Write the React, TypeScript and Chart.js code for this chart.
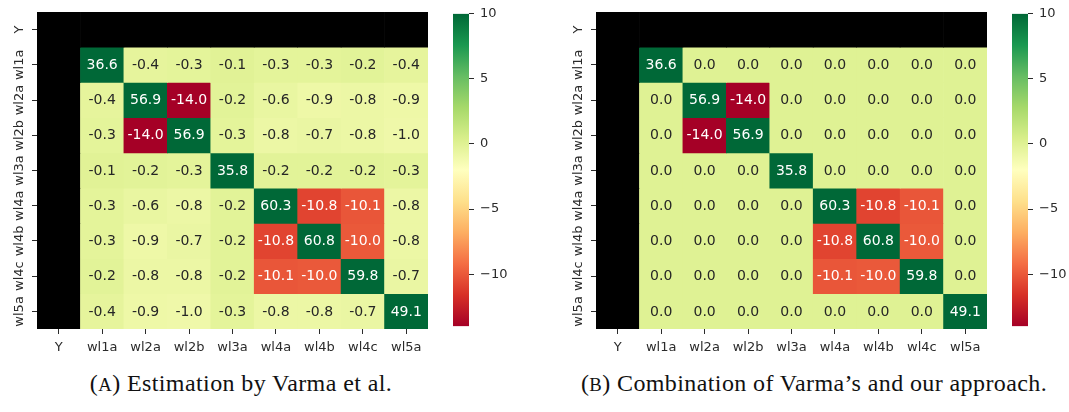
import React, { useEffect, useRef } from 'react';
import { Chart, registerables } from 'chart.js';

Chart.register(...registerables);

// ---------- data ----------
const rowLabels = ['Y', 'wl1a', 'wl2a', 'wl2b', 'wl3a', 'wl4a', 'wl4b', 'wl4c', 'wl5a'];
const colLabels = ['Y', 'wl1a', 'wl2a', 'wl2b', 'wl3a', 'wl4a', 'wl4b', 'wl4c', 'wl5a'];

// (A) Estimation by Varma et al. — rows wl1a..wl5a, columns wl1a..wl5a
const varmaWl1a = [36.6, -0.4, -0.3, -0.1, -0.3, -0.3, -0.2, -0.4];
const varmaWl2a = [-0.4, 56.9, -14.0, -0.2, -0.6, -0.9, -0.8, -0.9];
const varmaWl2b = [-0.3, -14.0, 56.9, -0.3, -0.8, -0.7, -0.8, -1.0];
const varmaWl3a = [-0.1, -0.2, -0.3, 35.8, -0.2, -0.2, -0.2, -0.3];
const varmaWl4a = [-0.3, -0.6, -0.8, -0.2, 60.3, -10.8, -10.1, -0.8];
const varmaWl4b = [-0.3, -0.9, -0.7, -0.2, -10.8, 60.8, -10.0, -0.8];
const varmaWl4c = [-0.2, -0.8, -0.8, -0.2, -10.1, -10.0, 59.8, -0.7];
const varmaWl5a = [-0.4, -0.9, -1.0, -0.3, -0.8, -0.8, -0.7, 49.1];

// (B) Combination of Varma's and our approach
const combWl1a = [36.6, 0.0, 0.0, 0.0, 0.0, 0.0, 0.0, 0.0];
const combWl2a = [0.0, 56.9, -14.0, 0.0, 0.0, 0.0, 0.0, 0.0];
const combWl2b = [0.0, -14.0, 56.9, 0.0, 0.0, 0.0, 0.0, 0.0];
const combWl3a = [0.0, 0.0, 0.0, 35.8, 0.0, 0.0, 0.0, 0.0];
const combWl4a = [0.0, 0.0, 0.0, 0.0, 60.3, -10.8, -10.1, 0.0];
const combWl4b = [0.0, 0.0, 0.0, 0.0, -10.8, 60.8, -10.0, 0.0];
const combWl4c = [0.0, 0.0, 0.0, 0.0, -10.1, -10.0, 59.8, 0.0];
const combWl5a = [0.0, 0.0, 0.0, 0.0, 0.0, 0.0, 0.0, 49.1];

const colorbarTicks = [-10, -5, 0, 5, 10];
const vmin = -14;
const vmax = 10;

const captionA = 'Estimation by Varma et al.';
const captionB = 'Combination of Varma\u2019s and our approach.';

// RdYlGn colormap control colours
const rdylgn = ['#a50026', '#d73027', '#f46d43', '#fdae61', '#fee08b', '#ffffbf', '#d9ef8b', '#a6d96a', '#66bd63', '#1a9850', '#006837'];

// ---------- helpers ----------
type Cell = number | null;

const buildMatrix = (rows: number[][]): Cell[][] => [
  colLabels.map(() => null),
  ...rows.map((r) => [null, ...r]),
];

const matrixA = buildMatrix([varmaWl1a, varmaWl2a, varmaWl2b, varmaWl3a, varmaWl4a, varmaWl4b, varmaWl4c, varmaWl5a]);
const matrixB = buildMatrix([combWl1a, combWl2a, combWl2b, combWl3a, combWl4a, combWl4b, combWl4c, combWl5a]);

const hexToRgb = (h: string) => [parseInt(h.slice(1, 3), 16), parseInt(h.slice(3, 5), 16), parseInt(h.slice(5, 7), 16)];

const cmapRgb = (v: number) => {
  let t = (v - vmin) / (vmax - vmin);
  t = Math.max(0, Math.min(1, t));
  const pos = t * (rdylgn.length - 1);
  const i = Math.min(Math.floor(pos), rdylgn.length - 2);
  const f = pos - i;
  const a = hexToRgb(rdylgn[i]);
  const b = hexToRgb(rdylgn[i + 1]);
  return a.map((c, k) => Math.round(c + (b[k] - c) * f));
};

const cmap = (v: number) => {
  const [r, g, b] = cmapRgb(v);
  return `rgb(${r},${g},${b})`;
};

const textColorFor = (v: number) => {
  const lin = cmapRgb(v).map((c) => {
    const s = c / 255;
    return s <= 0.03928 ? s / 12.92 : Math.pow((s + 0.055) / 1.055, 2.4);
  });
  const lum = 0.2126 * lin[0] + 0.7152 * lin[1] + 0.0722 * lin[2];
  return lum > 0.408 ? '#262626' : '#ffffff';
};

const TICK_COLOR = '#2b2b2b';
const FONT_FAMILY = '"DejaVu Sans", sans-serif';

const annotPlugin = {
  id: 'annot',
  afterDatasetsDraw(chart: any) {
    const ctx = chart.ctx;
    ctx.save();
    ctx.font = `14px ${FONT_FAMILY}`;
    ctx.textAlign = 'center';
    ctx.textBaseline = 'middle';
    chart.data.datasets.forEach((ds: any, di: number) => {
      const meta = chart.getDatasetMeta(di);
      meta.data.forEach((el: any, ci: number) => {
        const v = ds.values[ci];
        if (v === null || v === undefined) return;
        const { x, y, base } = el.getProps(['x', 'y', 'base'], true);
        ctx.fillStyle = textColorFor(v);
        ctx.fillText(v.toFixed(1), x, (y + base) / 2 + 0.5);
      });
    });
    ctx.restore();
  },
};

// ---------- components ----------
function Heatmap({ matrix, left }: { matrix: Cell[][]; left: number }) {
  const ref = useRef<HTMLCanvasElement>(null);
  useEffect(() => {
    if (!ref.current) return;
    const datasets = matrix.map((row, r) => ({
      label: rowLabels[r],
      data: row.map(() => 1),
      values: row,
      backgroundColor: row.map((v) => (v === null ? '#000000' : cmap(v))),
      borderWidth: 0,
      barPercentage: 1,
      categoryPercentage: 1,
    }));
    const chart = new Chart(ref.current, {
      type: 'bar',
      data: { labels: colLabels, datasets: datasets as any },
      options: {
        animation: false,
        responsive: false,
        maintainAspectRatio: false,
        events: [],
        layout: { padding: { top: 12, right: 12, left: 0, bottom: 0 } },
        plugins: { legend: { display: false }, tooltip: { enabled: false } },
        scales: {
          x: {
            stacked: true,
            offset: true,
            border: { display: false },
            grid: { offset: false, drawOnChartArea: false, drawTicks: true, tickLength: 5, color: TICK_COLOR },
            ticks: { color: TICK_COLOR, font: { family: FONT_FAMILY, size: 13 }, padding: 6, minRotation: 0, maxRotation: 0, autoSkip: false },
            afterFit: (s: any) => { s.height = 31; },
          },
          y: {
            stacked: true,
            reverse: true,
            min: 0,
            max: rowLabels.length,
            border: { display: false },
            grid: { drawOnChartArea: false, drawTicks: true, tickLength: 5, color: TICK_COLOR },
            afterBuildTicks: (s: any) => { s.ticks = rowLabels.map((_, i) => ({ value: i + 0.5 })); },
            ticks: {
              color: TICK_COLOR,
              font: { family: FONT_FAMILY, size: 13 },
              autoSkip: false,
              minRotation: 90,
              maxRotation: 90,
              crossAlign: 'center',
              padding: -3,
              callback: (v: any) => rowLabels[Math.floor(Number(v))],
            },
            afterFit: (s: any) => { s.width = 37; },
          },
        },
      } as any,
      plugins: [annotPlugin],
    });
    return () => chart.destroy();
  }, [matrix]);
  return (
    <canvas ref={ref} width={440} height={360}
      style={{ position: 'absolute', left, top: 0, width: 440, height: 360, display: 'block' }} />
  );
}

function Colorbar({ left }: { left: number }) {
  const ref = useRef<HTMLCanvasElement>(null);
  useEffect(() => {
    if (!ref.current) return;
    const chart = new Chart(ref.current, {
      type: 'bar',
      data: {
        labels: [''],
        datasets: [{
          data: [[vmin, vmax]],
          borderWidth: 0,
          barPercentage: 1,
          categoryPercentage: 1,
          backgroundColor: (c: any) => {
            const area = c.chart.chartArea;
            if (!area) return '#ffffbf';
            const g = c.chart.ctx.createLinearGradient(0, area.bottom, 0, area.top);
            rdylgn.forEach((col, i) => g.addColorStop(i / (rdylgn.length - 1), col));
            return g;
          },
        }] as any,
      },
      options: {
        animation: false,
        responsive: false,
        maintainAspectRatio: false,
        events: [],
        layout: { padding: { left: 13, top: 12, bottom: 11, right: 0 } },
        plugins: { legend: { display: false }, tooltip: { enabled: false } },
        scales: {
          x: { display: false },
          y: {
            position: 'right',
            min: vmin,
            max: vmax,
            border: { display: false },
            grid: { drawOnChartArea: false, drawTicks: true, tickLength: 5, color: TICK_COLOR },
            afterBuildTicks: (s: any) => { s.ticks = colorbarTicks.map((v) => ({ value: v })); },
            ticks: {
              color: TICK_COLOR,
              font: { family: FONT_FAMILY, size: 13 },
              padding: 6,
              callback: (v: any) => String(v).replace('-', '\u2212'),
            },
            afterFit: (s: any) => { s.width = 41; },
          },
        },
      } as any,
    });
    return () => chart.destroy();
  }, []);
  return (
    <canvas ref={ref} width={70} height={340}
      style={{ position: 'absolute', left, top: 0, width: 70, height: 340, display: 'block' }} />
  );
}

function Caption({ letter, text, left, width }: { letter: string; text: string; left: number; width: number }) {
  return (
    <div style={{
      position: 'absolute', left, width, top: 370, textAlign: 'center', whiteSpace: 'nowrap',
      fontFamily: '"Liberation Serif", serif', fontSize: 24, letterSpacing: 0.4, color: '#111',
    }}>
      (<span style={{ fontSize: '0.78em' }}>{letter}</span>) {text}
    </div>
  );
}

export default function App() {
  return (
    <div style={{ position: 'relative', width: 1069, height: 412, background: '#fff', overflow: 'hidden' }}>
      <style>{'body{margin:0;}'}</style>
      <Heatmap matrix={matrixA} left={0} />
      <Colorbar left={440} />
      <Heatmap matrix={matrixB} left={559} />
      <Colorbar left={999} />
      <Caption letter="A" text={captionA} left={0} width={482} />
      <Caption letter="B" text={captionB} left={564} width={500} />
    </div>
  );
}
